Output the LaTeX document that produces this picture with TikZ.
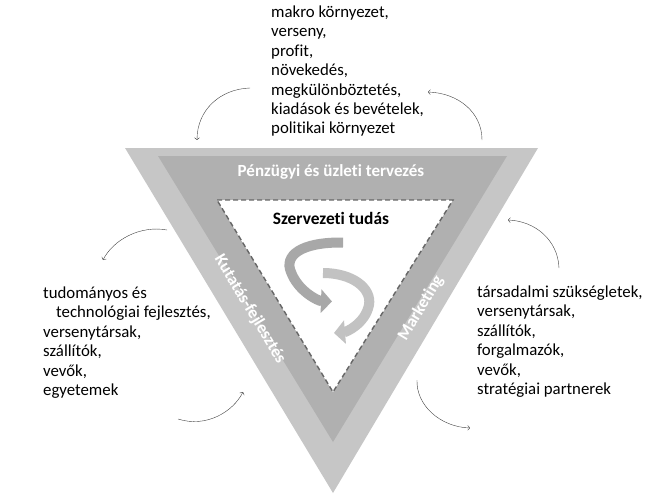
\documentclass[tikz,border=0pt]{standalone}
\usepackage{fontspec}
\setmainfont{Carlito}[Ligatures=NoCommon]
\usepackage{tikz}
\usetikzlibrary{arrows.meta,positioning,calc}

\begin{document}
\begin{tikzpicture}[x=1pt, y=-1pt,
    list/.style={anchor=north west, align=left, inner sep=0pt, font=\fontsize{16.8}{19.4}\selectfont},
    band/.style={font=\fontsize{17}{19}\selectfont\bfseries, text=white, inner sep=0pt},
    link/.style={draw, ->, thin, black!75},
    swirl/.style={line width=10pt, -{Triangle[width=23pt,length=11pt]}}
]
\useasboundingbox (0,0) rectangle (666,499);

% triangle corners
\coordinate (otl) at (125,148);
\coordinate (otr) at (538,148);
\coordinate (obot) at (333,493);
\coordinate (mtl) at (158,156);
\coordinate (mtr) at (507,156);
\coordinate (mbot) at (333,442);
\coordinate (itl) at (217,200);
\coordinate (itr) at (453,200);
\coordinate (ibot) at (333,392);

\fill [gray!45] (otl) -- (otr) -- (obot) -- cycle;
\fill [gray!62] (mtl) -- (mtr) -- (mbot) -- cycle;
\fill [white] (itl) -- (itr) -- (ibot) -- cycle;
\draw [black!60, line width=1.4pt, dash pattern=on 5pt off 3pt] (itl) -- (itr) -- (ibot) -- cycle;

% band labels
\node [band] (penz) at (331,172) {Pénzügyi és üzleti tervezés};
\node [band, rotate=-59] (kf) at (250,309) {Kutatás-fejlesztés};
\node [band, rotate=59] (mark) at (421,308) {Marketing};
\node [font=\fontsize{17.4}{19}\selectfont\bfseries] (tudas) at (331,218) {Szervezeti tudás};

% swirl
\draw [swirl, gray!68] (343,242.5) .. controls (300,242) and (284,256) .. (291,272)
    .. controls (298,291) and (318,301) .. (332,301.5);
\draw [swirl, gray!48] (323,273) .. controls (352,273) and (372,288) .. (369,305)
    .. controls (365,324) and (346,332) .. (334,333);

% outside lists
\node [list] (top) at (271,5.6) {makro környezet,\\verseny,\\profit,\\növekedés,\\megkülönböztetés,\\kiadások és bevételek,\\politikai környezet};
\node [list] (left) at (43,286.6) {tudományos és\\\hspace{13pt}technológiai fejlesztés,\\versenytársak,\\szállítók,\\vevők,\\egyetemek};
\node [list] (right) at (477,285.6) {társadalmi szükségletek,\\versenytársak,\\szállítók,\\forgalmazók,\\vevők,\\stratégiai partnerek};

% curved arrows
\coordinate (a1) at (250,88);   \coordinate (b1) at (197,140);
\coordinate (a2) at (482,140);  \coordinate (b2) at (428,92);
\coordinate (a3) at (167,230);  \coordinate (b3) at (103,260);
\coordinate (a4) at (178,419);  \coordinate (b4) at (243,392);
\coordinate (a5) at (559,268);  \coordinate (b5) at (508,220);
\coordinate (a6) at (417,380);  \coordinate (b6) at (470,428);

\path [link] (a1) .. controls (220,89) and (197,110) .. (b1);
\path [link] (a2) .. controls (482,112) and (458,93) .. (b2);
\path [link] (a3) .. controls (140,225) and (113,240) .. (b3);
\path [link] (a4) .. controls (206,428) and (233,412) .. (b4);
\path [link] (a5) .. controls (558,240) and (535,221) .. (b5);
\path [link] (a6) .. controls (416,405) and (440,427) .. (b6);

\end{tikzpicture}
\end{document}
